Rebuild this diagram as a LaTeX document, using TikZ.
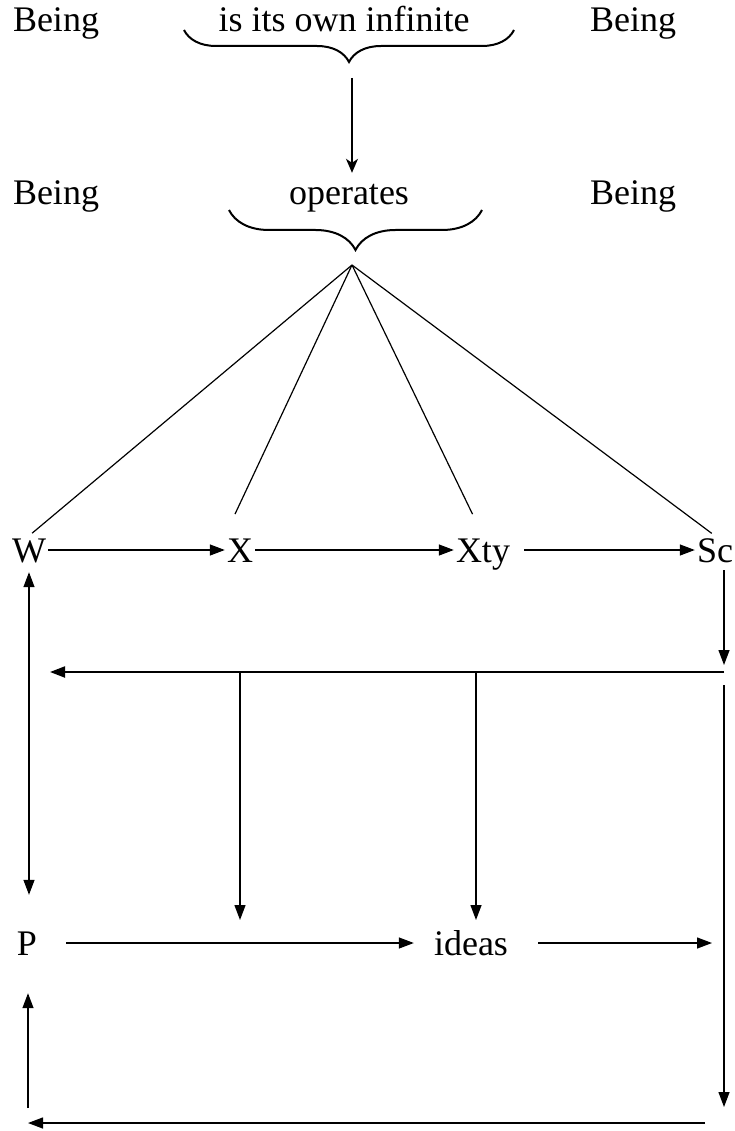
\documentclass[tikz,border=0pt]{standalone}
\usepackage{fontspec}
\setmainfont{Liberation Serif}
\usetikzlibrary{arrows.meta,calc,positioning,decorations.pathreplacing}
\begin{document}
\begin{tikzpicture}[x=1pt,y=-1pt,>={Triangle[length=15pt,width=11pt]},
  font=\fontsize{36}{42}\selectfont,
  word/.style={anchor=base,inner sep=2pt,text height=24pt,text depth=0pt},
  flow/.style={->,line width=1.3pt},
  fan/.style={line width=1.2pt},
  brc/.style={decorate,decoration={brace,mirror,amplitude=#1},line width=2pt}]
\useasboundingbox (0,0) rectangle (735,1131);
\node[word] (being1) at (56,32) {Being};
\node[word] (infinite) at (344,32) {is its own infinite};
\node[word] (being2) at (633,32) {Being};
\node[word] (being3) at (56,205) {Being};
\node[word] (operates) at (349,205) {operates};
\node[word] (being4) at (633,205) {Being};
\node[word] (W) at (29,562) {W};
\node[word] (X) at (240,562) {X};
\node[word] (Xty) at (483,562) {Xty};
\node[word] (Sc) at (715,562) {Sc};
\node[word] (P) at (27,955) {P};
\node[word] (ideas) at (471,955) {ideas};
\coordinate (tip1) at (352,62);
\coordinate (apex) at (352,265);
\coordinate (rc) at (724,672);
\coordinate (lt) at (50,672);
\coordinate (j1) at (240,672);
\coordinate (j2) at (476,672);
\coordinate (br) at (724,1123);
\coordinate (bl) at (28,1123);
\draw[brc=32pt] (184,30) -- (514,30);
\draw[brc=40pt] (229,210) -- (482,210);
\draw[flow,-{Stealth[length=14pt,width=12pt,inset=4pt]},shorten <=16pt,shorten >=6pt]
  (tip1) -- (tip1 |- operates.north);
\foreach \t/\a/\s in {W/north/4pt,X/north west/24pt,Xty/north/24pt,Sc/north/4pt}
  \draw[fan,shorten >=\s] (apex) -- (\t.\a);
\draw[flow] (W) -- (X);
\draw[flow] (X) -- (Xty);
\draw[flow,shorten <=12pt] (Xty) -- (Sc);
\draw[flow,shorten <=6pt,shorten >=7pt] (Sc.south -| rc) -- (rc);
\draw[flow,line width=2pt] (rc) -- (lt);
\draw[flow,<->,shorten <=8pt,shorten >=34pt] (W.south) -- (W.south |- P.north);
\draw[flow,shorten >=23pt] (j1) -- (j1 |- ideas);
\draw[flow,shorten >=23pt] (j2) -- (j2 |- ideas);
\draw[flow,shorten <=27pt,shorten >=18pt] (P) -- (ideas);
\draw[flow,shorten <=28pt,shorten >=12pt] (ideas) -- (ideas -| rc);
\draw[flow,shorten <=13pt,shorten >=16pt] (rc) -- (br);
\draw[flow,shorten <=19pt] (br) -- (bl);
\draw[flow,shorten <=15pt,shorten >=36pt] (bl) -- (bl |- P.south);
\end{tikzpicture}
\end{document}
